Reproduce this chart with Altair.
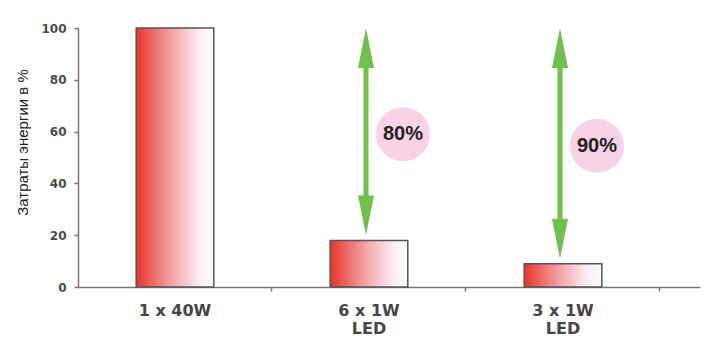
import altair as alt
import pandas as pd

categories = ["1 x 40W", "6 x 1W\nLED", "3 x 1W\nLED"]
energy = [100, 18, 9]
savings = ["", "80%", "90%"]
y_ticks = [0, 20, 40, 60, 80, 100]

df = pd.DataFrame({"cat": categories, "energy": energy, "saving": savings})

GREEN = "#70c04c"
AXIS_COL = "#777777"

x_axis = alt.Axis(title=None, labels=False, bandPosition=1, tickSize=4,
                  tickColor=AXIS_COL, tickWidth=1.5, domainColor=AXIS_COL,
                  domainWidth=1.5, grid=False)
x_scale = alt.Scale(paddingInner=0, paddingOuter=0.1031, align=0)
x_enc = alt.X("cat:N", sort=categories, scale=x_scale, axis=x_axis)

y_axis = alt.Axis(values=y_ticks, title="Затраты энергии в %", grid=False,
                  tickSize=4, tickColor=AXIS_COL, tickWidth=1.5,
                  domainColor=AXIS_COL, domainWidth=1.5,
                  labelFont="DejaVu Sans", labelFontWeight="bold",
                  labelFontSize=12, labelColor="#4a4a4a", labelPadding=8,
                  titleFont="Liberation Sans", titleFontSize=15,
                  titleFontWeight="normal", titleColor="#222222",
                  titleAngle=-90, titleBaseline="middle", titleAlign="center",
                  titleX=-56, titleY=114)
y_scale = alt.Scale(domain=[0, 100], nice=False)

def yenc(field):
    return alt.Y(field, type="quantitative", scale=y_scale, axis=y_axis,
                 title="Затраты энергии в %")

base = alt.Chart(df)

gradient = alt.LinearGradient(
    gradient="linear", x1=0, x2=1, y1=0, y2=0,
    stops=[alt.GradientStop(offset=0, color="#e8342a"),
           alt.GradientStop(offset=0.45, color="#f2a2a5"),
           alt.GradientStop(offset=0.8, color="#fcecee"),
           alt.GradientStop(offset=1, color="#ffffff")])

bars = base.mark_bar(width={"band": 0.4}, color=gradient, stroke="#555555",
                     strokeWidth=1.5).encode(x=x_enc, y=yenc("energy"))

savings_base = base.transform_joinaggregate(
    top="max(energy)"
).transform_calculate(
    mid="(datum.top + datum.energy) / 2"
).transform_filter("datum.saving != ''")

shaft = savings_base.mark_rule(color=GREEN, strokeWidth=5, xOffset=-3,
                               yOffset=20, y2Offset=-22).encode(
    x=x_enc, y=yenc("top"), y2="energy:Q")

head_up = savings_base.mark_point(shape="M0,0L0.2,1L-0.2,1Z", filled=True,
                                  size=6400, color=GREEN, opacity=1,
                                  strokeWidth=0, xOffset=-3).encode(
    x=x_enc, y=yenc("top"))

head_down = savings_base.mark_point(shape="M0,-0.125L0.2,-1.125L-0.2,-1.125Z",
                                    filled=True, size=6400, color=GREEN,
                                    opacity=1, strokeWidth=0, xOffset=-3).encode(
    x=x_enc, y=yenc("energy"))

circles = savings_base.mark_circle(size=2916, color="#f8d3e6", opacity=1,
                                   xOffset=34).encode(x=x_enc, y=yenc("mid"))

circle_text = savings_base.mark_text(font="Liberation Sans", fontSize=20,
                                     fontWeight="bold", color="#222222",
                                     xOffset=34, baseline="middle").encode(
    x=x_enc, y=yenc("mid"), text="saving:N")

labels = base.mark_text(font="DejaVu Sans", fontSize=16, fontWeight="bold",
                        color="#454545", baseline="top", lineBreak="\n",
                        lineHeight=18, dy=16).encode(
    x=x_enc, y=alt.value(259), text="cat:N")

chart = alt.layer(bars, shaft, head_up, head_down, circles, circle_text, labels).properties(
    width=622, height=259,
    padding={"left": 70, "top": 20, "right": 2, "bottom": 50},
    autosize="none",
    background="#ffffff",
).configure_view(stroke=None)

chart.save("out.html", embed_options={"renderer": "svg", "actions": False})
